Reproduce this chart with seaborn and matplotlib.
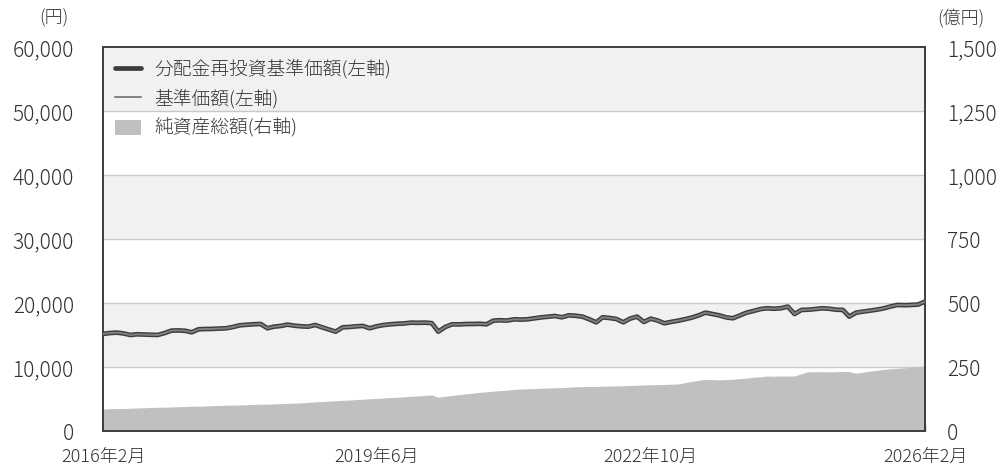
import numpy as np
import pandas as pd
import seaborn as sns
import matplotlib.pyplot as plt
from matplotlib.lines import Line2D
from matplotlib.patches import Patch

# 月次データ 2016年2月〜2026年2月
dates = pd.date_range("2016-02-01", "2026-02-01", freq="MS")

# 基準価額(円)
nav = [
    15210, 15350, 15420, 15300, 15050, 15160, 15120, 15080, 15050, 15350,
    15730, 15760, 15700, 15470, 15940, 15980, 16000, 16050, 16100, 16300,
    16560, 16650, 16720, 16770, 16100, 16350, 16460, 16670, 16500, 16400,
    16350, 16610, 16250, 15900, 15570, 16250, 16300, 16400, 16460, 16100,
    16400, 16600, 16720, 16800, 16850, 16980, 16950, 16980, 16900, 15570,
    16300, 16720, 16700, 16760, 16770, 16800, 16720, 17290, 17350, 17300,
    17500, 17450, 17500, 17650, 17800, 17900, 18020, 17810, 18120, 18050,
    17920, 17500, 17030, 17810, 17700, 17550, 17030, 17600, 17920, 17080,
    17600, 17300, 16880, 17100, 17290, 17500, 17760, 18100, 18540, 18330,
    18120, 17800, 17660, 18100, 18540, 18800, 19100, 19220, 19150, 19220,
    19480, 18330, 18960, 19000, 19100, 19220, 19150, 19000, 18960, 17920,
    18540, 18700, 18850, 19000, 19200, 19500, 19740, 19700, 19740, 19800,
    20260,
]
# 分配金再投資基準価額(円) 分配なしのため基準価額と同じ
reinvested = list(nav)

# 純資産総額(億円)
aum = [
    87, 88, 89, 89, 90, 91, 92, 93, 94, 94,
    95, 96, 97, 98, 98, 99, 100, 101, 102, 102,
    103, 104, 105, 106, 106, 107, 108, 109, 110, 111,
    113, 115, 116, 118, 119, 121, 122, 124, 125, 127,
    128, 130, 132, 133, 135, 137, 138, 140, 142, 133,
    137, 140, 143, 146, 149, 152, 154, 157, 159, 161,
    164, 165, 166, 167, 168, 169, 170, 171, 172, 174,
    174, 175, 175, 176, 177, 177, 178, 179, 180, 181,
    182, 182, 183, 184, 185, 190, 195, 199, 203, 202,
    201, 202, 203, 206, 208, 211, 213, 216, 215, 216,
    216, 216, 225, 233, 232, 233, 232, 233, 234, 233,
    227, 231, 235, 238, 242, 244, 246, 248, 250, 252,
    255,
]

tick_dates = pd.to_datetime(["2016-02-01", "2019-06-01", "2022-10-01", "2026-02-01"])
left_ticks = [0, 10000, 20000, 30000, 40000, 50000, 60000]
right_ticks = [0, 250, 500, 750, 1000, 1250, 1500]

labels = ["分配金再投資基準価額(左軸)", "基準価額(左軸)", "純資産総額(右軸)"]

df = pd.DataFrame({"date": dates, "nav": nav, "reinvested": reinvested, "aum": aum})

sns.set_theme(style="white")
plt.rcParams["font.family"] = ["Noto Sans CJK JP", "DejaVu Sans"]

DARK = "#3d3d3d"
MID = "#808080"
AREA = "#bfc0c2"
BAND = "#f0f1f3"
GRID = "#c9c9c9"
TXT = "#333333"

fig = plt.figure(figsize=(10.02, 4.71), dpi=100)
ax2 = fig.add_axes([0.1028, 0.0843, 0.8204, 0.8153])
ax = ax2.twinx()
ax.set_zorder(ax2.get_zorder() + 1)
ax.patch.set_visible(False)

# 背景の帯とグリッド(右軸スケールで描画)
for lo in [250, 750, 1250]:
    ax2.axhspan(lo, lo + 250, color=BAND, lw=0, zorder=0)
for t in right_ticks[1:-1]:
    ax2.axhline(t, color=GRID, lw=1, zorder=1)

# 純資産総額
ax2.fill_between(df["date"], 0, df["aum"], color=AREA, lw=0, zorder=2)

# 基準価額ライン
sns.lineplot(data=df, x="date", y="reinvested", ax=ax, color=DARK, lw=3.4, zorder=3)
sns.lineplot(data=df, x="date", y="nav", ax=ax, color=MID, lw=1.4, zorder=4)

ax.set_ylim(0, 60000)
ax2.set_ylim(0, 1500)
ax.set_xlim(dates[0], dates[-1])

# 左軸をax側、右軸をax2側
ax.yaxis.tick_left()
ax2.yaxis.tick_right()
ax.set_yticks(left_ticks)
ax.set_yticklabels([f"{v:,}" for v in left_ticks], fontweight="light")
ax2.set_yticks(right_ticks)
ax2.set_yticklabels([f"{v:,}" for v in right_ticks], fontweight="light")
ax.tick_params(axis="y", length=0, pad=21, labelsize=15, labelcolor=TXT)
ax2.tick_params(axis="y", length=0, pad=16, labelsize=15, labelcolor=TXT)

ax2.set_xticks(tick_dates)
ax2.set_xticklabels([f"{d.year}年{d.month}月" for d in tick_dates], fontweight="light")
ax2.tick_params(axis="x", direction="in", length=5, width=1, color=DARK,
                pad=12, labelsize=13, labelcolor=TXT, bottom=True)
ax.tick_params(axis="x", bottom=False, labelbottom=False)

for a in (ax, ax2):
    a.set_xlabel("")
    a.set_ylabel("")
    for s in a.spines.values():
        s.set_color(DARK)
        s.set_linewidth(1.2)

fig.text(0.054, 0.962, "(円)", ha="center", va="center", fontsize=13,
         color=TXT, fontweight="light")
fig.text(0.959, 0.962, "(億円)", ha="center", va="center", fontsize=13,
         color=TXT, fontweight="light")

handles = [
    Line2D([], [], color=DARK, lw=3.4),
    Line2D([], [], color=MID, lw=1.4),
    Patch(facecolor=AREA, edgecolor="none"),
]
ax.legend(handles, labels, loc="upper left", bbox_to_anchor=(0.0146, 0.97),
          frameon=False, handlelength=1.4, handleheight=0.8,
          handletextpad=0.7, labelspacing=0.55, borderaxespad=0, borderpad=0,
          labelcolor=TXT, prop={"size": 13.5, "weight": "light"})

plt.savefig("out.png", dpi=100)
